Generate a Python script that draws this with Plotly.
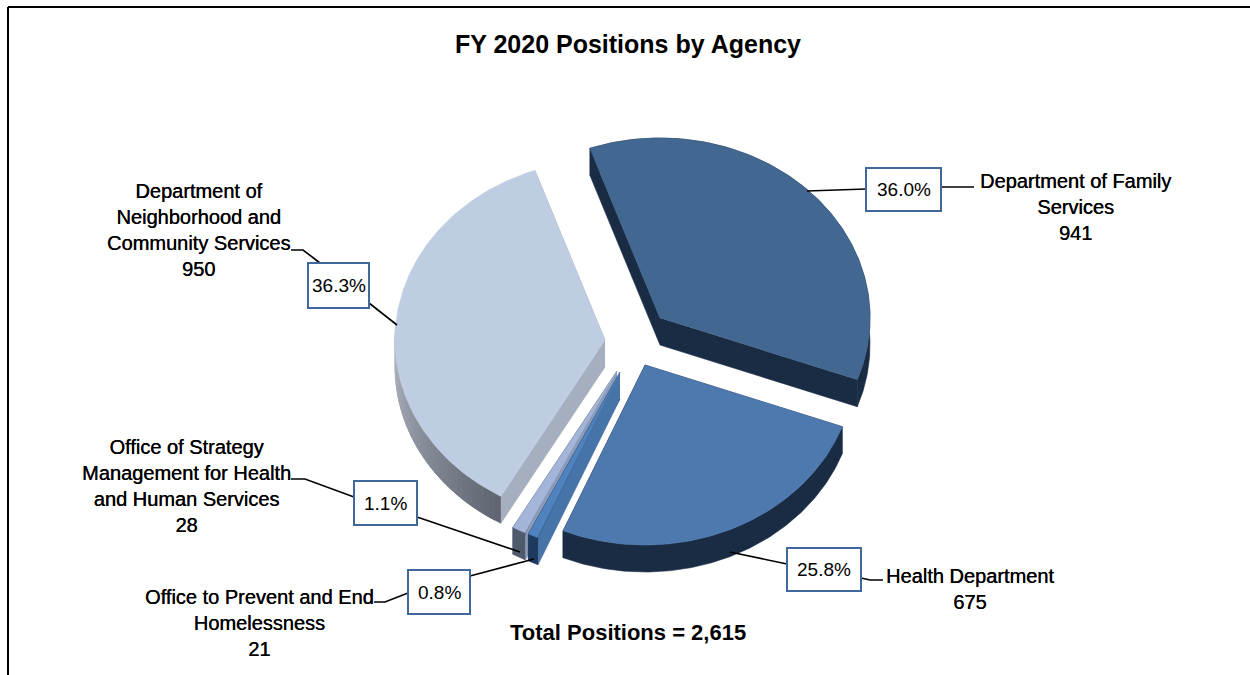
import numpy as np
import plotly.graph_objects as go

title = "FY 2020 Positions by Agency"
footer = "Total Positions = 2,615"
agencies = ["Department of Family Services", "Health Department",
            "Office to Prevent and End Homelessness",
            "Office of Strategy Management for Health and Human Services",
            "Department of Neighborhood and Community Services"]
label_lines = [["Department of Family", "Services"], ["Health Department"],
               ["Office to Prevent and End", "Homelessness"],
               ["Office of Strategy", "Management for Health", "and Human Services"],
               ["Department of", "Neighborhood and", "Community Services"]]
positions = [941, 675, 21, 28, 950]
pct_labels = ["36.0%", "25.8%", "0.8%", "1.1%", "36.3%"]

# styling and layout (axes are laid out in page pixels)
START = -19.5
RX, RY, DEPTH = 210, 180, 27
apex = [(660, 318), (645, 365), (620, 372), (617, 371), (605, 340)]
top_col = ["#426791", "#4D79AF", "#4F83C0", "#A3B5D9", "#BFCDE3"]
edge_a = ["#1A2C44", "#1A2C44", "#4673A8", "#8C9BB8", "#A6AFBF"]
edge_b = ["#1A2C44", "#1A2C44", "#1F3A5F", "#4F5A6C", "#A6AFBF"]
arc_from = ["#1A2C44", "#1A2C44", "#1F3A5F", "#4F5A6C", "#5F6672"]
arc_to = ["#1A2C44", "#1A2C44", "#1F3A5F", "#4F5A6C", "#B4B9C4"]
draw_order = [0, 4, 3, 2, 1]
label_xy = [(1075, 207), (970, 589), (259, 623), (186, 486), (198, 230)]
boxes = [(866, 168, 941, 211), (787, 548, 861, 591), (408, 570, 470, 614),
         (354, 481, 417, 525), (308, 263, 369, 308)]
leaders = [[[(807, 191), (866, 189)], [(941, 187), (974, 187)]],
           [[(730, 552), (787, 564)], [(861, 578), (870, 580), (883, 580)]],
           [[(534, 559), (470, 576)], [(374, 602), (385, 602), (408, 593)]],
           [[(520, 552), (417, 517)], [(291, 479), (305, 479), (354, 497)]],
           [[(397, 325), (369, 303)], [(291, 250), (303, 250), (320, 263)]]]
FONT = "Liberation Sans, Arial, sans-serif"
WEIGHT = "0.35px 0 0 black"


def hex_mix(a, b, t):
    ca = [int(a[i:i + 2], 16) for i in (1, 3, 5)]
    cb = [int(b[i:i + 2], 16) for i in (1, 3, 5)]
    return "#%02X%02X%02X" % tuple(round(x + (y - x) * t) for x, y in zip(ca, cb))


fig = go.Figure()


def poly(xs, ys, color, name=None, hover=False):
    fig.add_trace(go.Scatter(x=list(xs), y=list(ys), mode="lines", fill="toself",
                             fillcolor=color, line=dict(color=color, width=0.6),
                             showlegend=False, name=name or "",
                             hoverinfo="name" if hover else "skip"))


fractions = np.array(positions) / sum(positions) * 360
ends = START + np.cumsum(fractions)
starts = ends - fractions
for i in draw_order:
    name = agencies[i]
    th = np.radians(np.linspace(starts[i], ends[i], 140))
    ax, ay = apex[i]
    px = ax + RX * np.sin(th)
    py = ay - RY * np.cos(th)
    # cut edges: the far one first, so the near one stays in front of it
    poly([ax, px[-1], px[-1], ax], [ay, py[-1], py[-1] + DEPTH, ay + DEPTH], edge_b[i])
    poly([ax, px[0], px[0], ax], [ay, py[0], py[0] + DEPTH, ay + DEPTH], edge_a[i])
    # rim: a single face, or overlapping strips where the colour shades along it
    if arc_from[i] == arc_to[i]:
        poly(list(px) + list(px[::-1]), list(py) + list((py + DEPTH)[::-1]), arc_from[i])
    else:
        vis = [k for k in range(0, len(th) - 1, 2) if np.cos(th[k]) < 0.05]
        for n, k in enumerate(vis):
            e = min(k + 5, len(th))
            t = n / max(len(vis) - 1, 1)
            poly(list(px[k:e]) + list(px[k:e][::-1]),
                 list(py[k:e]) + list((py[k:e] + DEPTH)[::-1]),
                 hex_mix(arc_from[i], arc_to[i], t))
    # top face
    poly([ax] + list(px), [ay] + list(py), top_col[i],
         name="%s: %d (%s)" % (name, positions[i], pct_labels[i]), hover=True)

# leader lines
for group in leaders:
    for seg in group:
        fig.add_trace(go.Scatter(x=[p[0] for p in seg], y=[p[1] for p in seg], mode="lines",
                                 line=dict(color="black", width=1.6), showlegend=False,
                                 hoverinfo="skip"))

shapes = [dict(type="line", x0=8, x1=1250, y0=7, y1=7, line=dict(color="black", width=2)),
          dict(type="line", x0=8, x1=8, y0=7, y1=675, line=dict(color="black", width=2))]
annotations = [
    dict(x=628, y=44, text="<b>%s</b>" % title, font=dict(size=25), showarrow=False),
    dict(x=628, y=632, text="<b>%s</b>" % footer, font=dict(size=22), showarrow=False),
]
for i in range(len(agencies)):
    x0, y0, x1, y1 = boxes[i]
    shapes.append(dict(type="rect", x0=x0, x1=x1, y0=y0, y1=y1, fillcolor="white",
                       line=dict(color="#41689A", width=2), layer="above"))
    annotations.append(dict(x=(x0 + x1) / 2, y=(y0 + y1) / 2, text=pct_labels[i], showarrow=False,
                            font=dict(size=19)))
    txt = "<br>".join(label_lines[i] + [str(positions[i])])
    annotations.append(dict(x=label_xy[i][0], y=label_xy[i][1], text=txt, showarrow=False,
                            align="center", font=dict(size=20, shadow=WEIGHT)))

fig.update_layout(
    width=1250, height=675, margin=dict(l=0, r=0, t=0, b=0), autosize=False,
    paper_bgcolor="white", plot_bgcolor="white", showlegend=False,
    font=dict(family=FONT, color="black"),
    xaxis=dict(range=[0, 1250], visible=False, fixedrange=True),
    yaxis=dict(range=[675, 0], visible=False, fixedrange=True),
    shapes=shapes, annotations=annotations,
)
fig.write_html("out.html", config=dict(displayModeBar=False),
               post_script="document.body.style.margin='0';document.body.style.overflow='hidden';")
